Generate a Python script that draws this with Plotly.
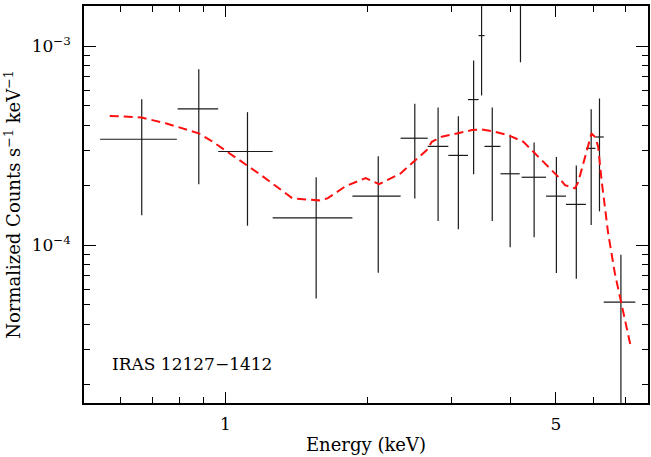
import plotly.graph_objects as go

# ---- data ----
e_center = [0.665, 0.878, 1.113, 1.555, 2.104, 2.514, 2.816, 3.108, 3.348, 3.480,
            3.666, 4.000, 4.206, 4.495, 5.010, 5.520, 5.935, 6.180, 6.860]
e_low    = [0.543, 0.792, 0.965, 1.258, 1.855, 2.346, 2.677, 2.960, 3.257, 3.430,
            3.530, 3.816, 4.190, 4.230, 4.764, 5.250, 5.785, 6.060, 6.310]
e_high   = [0.789, 0.965, 1.258, 1.855, 2.346, 2.677, 2.960, 3.257, 3.430, 3.530,
            3.816, 4.190, 4.230, 4.764, 5.250, 5.785, 6.060, 6.310, 7.360]
flux     = [3.40e-4, 4.83e-4, 2.95e-4, 1.37e-4, 1.76e-4, 3.44e-4, 3.13e-4, 2.82e-4, 5.38e-4, 1.128e-3,
            3.13e-4, 2.28e-4, 2.50e-3, 2.19e-4, 1.76e-4, 1.60e-4, 3.06e-4, 3.49e-4, 5.16e-5]
flux_low = [1.41e-4, 2.02e-4, 1.25e-4, 5.38e-5, 7.26e-5, 1.715e-4, 1.32e-4, 1.20e-4, 2.27e-4, 5.64e-4,
            1.32e-4, 9.74e-5, 8.28e-4, 1.093e-4, 7.24e-5, 6.77e-5, 1.26e-4, 1.476e-4, 1.0e-5]
flux_high= [5.40e-4, 7.64e-4, 4.65e-4, 2.19e-4, 2.79e-4, 5.12e-4, 4.91e-4, 4.44e-4, 8.45e-4, 2.2e-3,
            4.91e-4, 3.58e-4, 4.0e-3, 3.27e-4, 2.77e-4, 2.51e-4, 4.81e-4, 5.45e-4, 8.94e-5]

model_e = [0.569, 0.665, 0.750, 0.826, 0.878, 0.940, 0.999, 1.070, 1.189, 1.300,
           1.386, 1.578, 1.643, 1.796, 1.980, 2.112, 2.346, 2.665, 2.731, 2.866,
           3.113, 3.320, 3.485, 3.721, 3.968, 4.267, 4.479, 4.742, 5.057, 5.224,
           5.484, 5.572, 5.759, 5.946, 6.053, 6.142, 6.242, 6.447, 6.660, 6.855,
           7.045, 7.196]
model_f = [4.455e-4, 4.37e-4, 4.08e-4, 3.81e-4, 3.64e-4, 3.30e-4, 3.00e-4, 2.67e-4, 2.245e-4, 1.925e-4,
           1.715e-4, 1.676e-4, 1.715e-4, 1.977e-4, 2.17e-4, 2.02e-4, 2.29e-4, 3.00e-4, 3.30e-4, 3.50e-4,
           3.64e-4, 3.78e-4, 3.81e-4, 3.70e-4, 3.56e-4, 3.30e-4, 2.94e-4, 2.57e-4, 2.20e-4, 2.00e-4,
           1.925e-4, 2.07e-4, 2.76e-4, 3.64e-4, 3.48e-4, 3.11e-4, 2.12e-4, 1.145e-4, 7.21e-5, 5.30e-5,
           3.89e-5, 3.09e-5]

x_major = [1, 5]
x_major_text = ["1", "5"]
x_minor = [0.6, 0.7, 0.8, 0.9, 2, 3, 4, 6, 7]
y_major = [1e-4, 1e-3]
y_major_text = ["10<sup>−4</sup>", "10<sup>−3</sup>"]
y_minor = [2e-5, 3e-5, 4e-5, 5e-5, 6e-5, 7e-5, 8e-5, 9e-5,
           2e-4, 3e-4, 4e-4, 5e-4, 6e-4, 7e-4, 8e-4, 9e-4]

label = "IRAS 12127−1412"
x_title = "Energy (keV)"
y_title = "Normalized Counts s<sup>−1</sup> keV<sup>−1</sup>"

# ---- build crosses as segments ----
cx, cy = [], []
for ec, lo, hi, f, fl, fh in zip(e_center, e_low, e_high, flux, flux_low, flux_high):
    cx += [lo, hi, None, ec, ec, None]
    cy += [f, f, None, fl, fh, None]

FONT = "DejaVu Serif"
fig = go.Figure()
fig.add_trace(go.Scatter(x=cx, y=cy, mode="lines",
                         line=dict(color="#1a1a1a", width=1.2),
                         hoverinfo="skip", showlegend=False))
fig.add_trace(go.Scatter(x=model_e, y=model_f, mode="lines",
                         line=dict(color="#ff1010", width=2, dash="9px,5px"),
                         showlegend=False))

axis_common = dict(showgrid=False, zeroline=False, showline=True, linecolor="black",
                   linewidth=1.5, mirror="ticks", ticks="inside", tickcolor="black",
                   tickwidth=1, tickfont=dict(family=FONT, size=17, color="black"))

fig.update_xaxes(type="log", range=[-0.2993, 0.8936], tickmode="array",
                 tickvals=x_major, ticktext=x_major_text, ticklen=11,
                 minor=dict(tickvals=x_minor, ticks="inside", ticklen=6,
                            tickcolor="black", tickwidth=1),
                 title=dict(text=x_title, font=dict(family=FONT, size=18, color="black"),
                            standoff=5),
                 ticklabelstandoff=5,
                 **axis_common)
fig.update_yaxes(type="log", range=[-4.794, -2.799], tickmode="array",
                 tickvals=y_major, ticktext=y_major_text, ticklen=12,
                 minor=dict(tickvals=y_minor, ticks="inside", ticklen=6,
                            tickcolor="black", tickwidth=1),
                 title=dict(text=y_title, font=dict(family=FONT, size=18, color="black"),
                            standoff=6),
                 ticklabelstandoff=8,
                 **axis_common)

fig.add_annotation(text=label, xref="paper", yref="paper", x=0.046, y=0.098,
                   xanchor="left", yanchor="middle", showarrow=False,
                   font=dict(family=FONT, size=17, color="black"))

fig.update_layout(width=651, height=457, margin=dict(l=84, r=1, t=6, b=54),
                  plot_bgcolor="white", paper_bgcolor="white")

fig.write_html("out.html")
